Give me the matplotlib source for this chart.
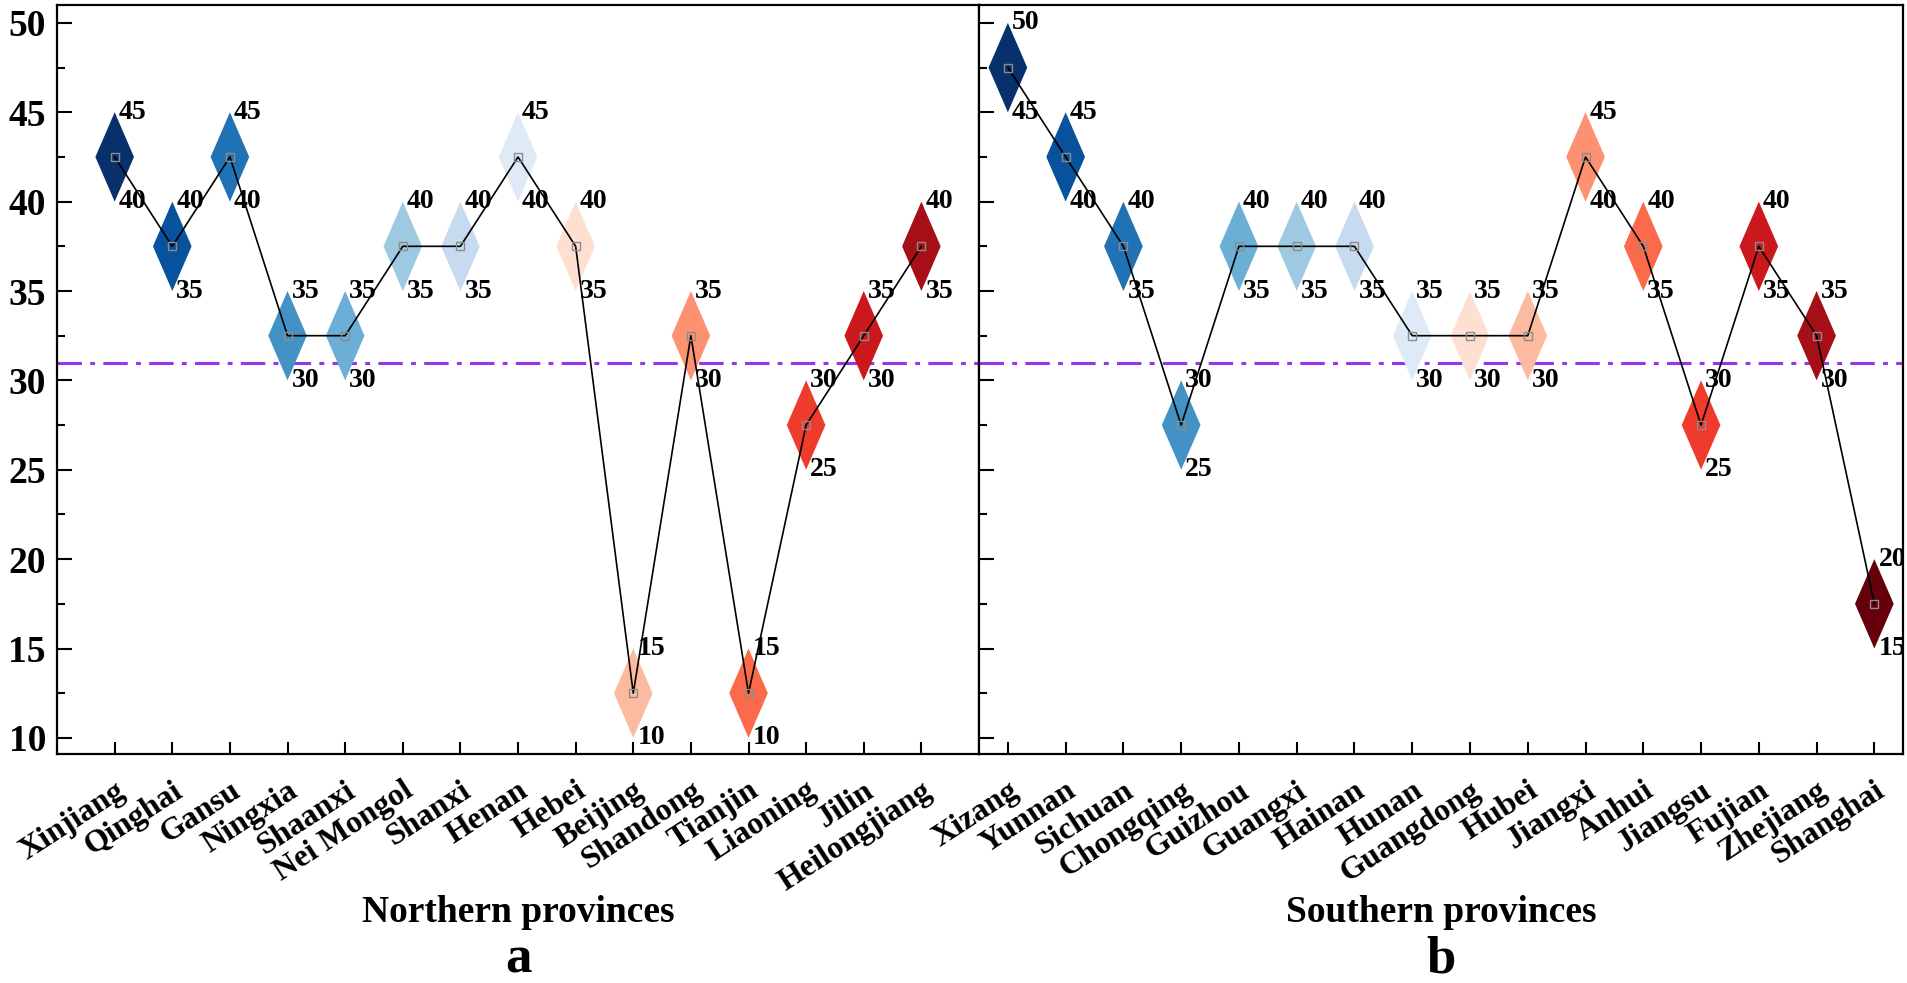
import matplotlib
matplotlib.use("Agg")
import matplotlib.pyplot as plt
from matplotlib.patches import Polygon
from matplotlib.ticker import MultipleLocator, AutoMinorLocator
from matplotlib.transforms import ScaledTranslation

# Northern provinces: lower and upper bound of each range
north_provinces = ["Xinjiang", "Qinghai", "Gansu", "Ningxia", "Shaanxi", "Nei Mongol",
                   "Shanxi", "Henan", "Hebei", "Beijing", "Shandong", "Tianjin",
                   "Liaoning", "Jilin", "Heilongjiang"]
north_low = [40, 35, 40, 30, 30, 35, 35, 40, 35, 10, 30, 10, 25, 30, 35]
north_high = [45, 40, 45, 35, 35, 40, 40, 45, 40, 15, 35, 15, 30, 35, 40]

# Southern provinces
south_provinces = ["Xizang", "Yunnan", "Sichuan", "Chongqing", "Guizhou", "Guangxi",
                   "Hainan", "Hunan", "Guangdong", "Hubei", "Jiangxi", "Anhui",
                   "Jiangsu", "Fujian", "Zhejiang", "Shanghai"]
south_low = [45, 40, 35, 25, 35, 35, 35, 30, 30, 30, 40, 35, 25, 35, 30, 15]
south_high = [50, 45, 40, 30, 40, 40, 40, 35, 35, 35, 45, 40, 30, 40, 35, 20]

reference_level = 31

blues = ["#08306b", "#08519c", "#2171b5", "#4292c6", "#6baed6", "#9ecae1", "#c6dbef", "#deebf7"]
reds = ["#fee0d2", "#fcbba1", "#fc9272", "#fb6a4a", "#ef3b2c", "#cb181d", "#a50f15", "#67000d"]

plt.rcParams["font.family"] = ["Liberation Serif", "DejaVu Serif"]
plt.rcParams["font.weight"] = "bold"


def draw_panel(fig, ax, names, low, high, colors):
    """Draw diamonds spanning low..high, labels and the line through the centres."""
    xs = list(range(len(names)))
    mids = [(lo + hi) / 2 for lo, hi in zip(low, high)]
    half = 0.335
    for x, lo, hi, m, c in zip(xs, low, high, mids, colors):
        ax.add_patch(Polygon([(x - half, m), (x, hi), (x + half, m), (x, lo)],
                             closed=True, facecolor=c, edgecolor="none", zorder=2))
        ax.text(x + 0.07, hi, f"{hi}", ha="left", va="center", fontsize=20,
                fontweight="bold", zorder=5, clip_on=True)
        ax.text(x + 0.07, lo, f"{lo}", ha="left", va="center", fontsize=20,
                fontweight="bold", zorder=5, clip_on=True)
    ax.plot(xs, mids, color="black", lw=1.2, zorder=3)
    ax.plot(xs, mids, ls="none", marker="s", ms=5.5, mfc="none", mec="#8c8c8c",
            mew=1.0, zorder=4)
    ax.axhline(reference_level, color="#9933ee", lw=2.2,
               ls=(0, (8, 2.7, 1.6, 2.7)), zorder=1)

    ax.set_xticks(xs)
    ax.set_xticklabels(names, rotation=33, ha="right", va="top",
                       rotation_mode="anchor", fontsize=23, fontweight="bold")
    shift = ScaledTranslation(0.10, 0, fig.dpi_scale_trans)
    for lab in ax.get_xticklabels():
        lab.set_transform(lab.get_transform() + shift)
    ax.tick_params(axis="x", which="major", direction="in", length=9, width=1.5,
                   pad=16, top=False)
    ax.tick_params(axis="y", which="major", direction="in", length=11, width=1.5,
                   labelsize=27, pad=8, right=False)
    ax.tick_params(axis="y", which="minor", direction="in", length=6, width=1.5,
                   right=False)
    ax.yaxis.set_major_locator(MultipleLocator(5))
    ax.yaxis.set_minor_locator(AutoMinorLocator(2))
    for side in ax.spines.values():
        side.set_linewidth(1.6)


def main():
    fig = plt.figure(figsize=(19.08, 9.83), dpi=100)
    ax1 = fig.add_axes([0.0299, 0.233, 0.4832, 0.7619])
    ax2 = fig.add_axes([0.5131, 0.233, 0.4844, 0.7619], sharey=ax1)

    north_colors = blues[:8] + reds[:7]
    south_colors = blues[:8] + reds[:8]

    draw_panel(fig, ax1, north_provinces, north_low, north_high, north_colors)
    draw_panel(fig, ax2, south_provinces, south_low, south_high, south_colors)

    ax1.set_xlim(-1, 15)
    ax2.set_xlim(-0.5, 15.5)
    ax1.set_ylim(9.1, 51)
    ax2.tick_params(axis="y", labelleft=False)

    fig.text(0.2715, 0.062, "Northern provinces", ha="center", va="baseline",
             fontsize=27, fontweight="bold")
    fig.text(0.7553, 0.062, "Southern provinces", ha="center", va="baseline",
             fontsize=27, fontweight="bold")
    fig.text(0.2715, 0.011, "a", ha="center", va="baseline", fontsize=38,
             fontweight="bold")
    fig.text(0.7553, 0.011, "b", ha="center", va="baseline", fontsize=38,
             fontweight="bold")

    fig.savefig("out.png", dpi=100)


if __name__ == "__main__":
    main()
